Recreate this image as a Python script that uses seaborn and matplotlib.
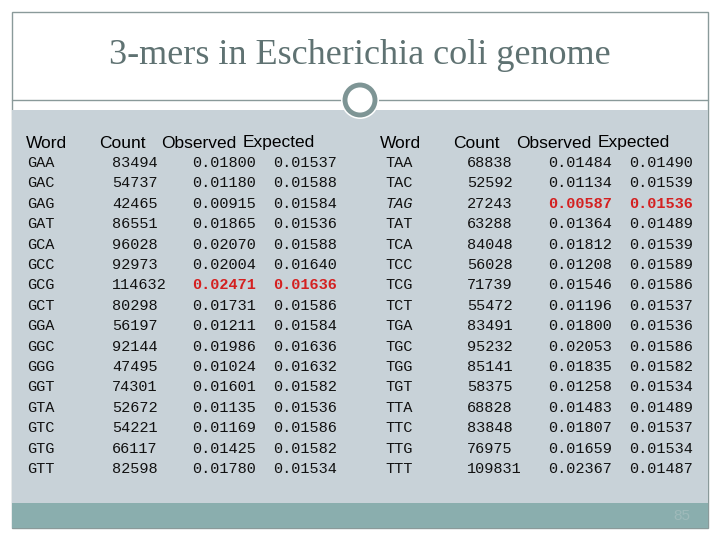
import matplotlib
matplotlib.use("Agg")
import matplotlib.pyplot as plt
import seaborn as sns
from matplotlib.patches import Rectangle, Circle

sns.set_theme(style="white")

title = "3-mers in Escherichia coli genome"
headers = ["Word", "Count", "Observed", "Expected"]
words_left = ["GAA","GAC","GAG","GAT","GCA","GCC","GCG","GCT","GGA","GGC","GGG","GGT","GTA","GTC","GTG","GTT"]
counts_left = [83494,54737,42465,86551,96028,92973,114632,80298,56197,92144,47495,74301,52672,54221,66117,82598]
obs_left = ["0.01800","0.01180","0.00915","0.01865","0.02070","0.02004","0.02471","0.01731","0.01211","0.01986","0.01024","0.01601","0.01135","0.01169","0.01425","0.01780"]
exp_left = ["0.01537","0.01588","0.01584","0.01536","0.01588","0.01640","0.01636","0.01586","0.01584","0.01636","0.01632","0.01582","0.01536","0.01586","0.01582","0.01534"]
words_right = ["TAA","TAC","TAG","TAT","TCA","TCC","TCG","TCT","TGA","TGC","TGG","TGT","TTA","TTC","TTG","TTT"]
counts_right = [68838,52592,27243,63288,84048,56028,71739,55472,83491,95232,85141,58375,68828,83848,76975,109831]
obs_right = ["0.01484","0.01134","0.00587","0.01364","0.01812","0.01208","0.01546","0.01196","0.01800","0.02053","0.01835","0.01258","0.01483","0.01807","0.01659","0.02367"]
exp_right = ["0.01490","0.01539","0.01536","0.01489","0.01539","0.01589","0.01586","0.01537","0.01536","0.01586","0.01582","0.01534","0.01489","0.01537","0.01534","0.01487"]
highlight_left = "GCG"
highlight_right = "TAG"
page = "85"

fig = plt.figure(figsize=(7.2, 5.4), dpi=100)
ax = fig.add_axes([0, 0, 1, 1])
ax.set_xlim(0, 720); ax.set_ylim(540, 0); ax.axis("off")
fig.patch.set_facecolor("white")

edge = "#8a9a9a"
ax.add_patch(Rectangle((12, 12), 696, 516, facecolor="white", edgecolor=edge, lw=1))
ax.add_patch(Rectangle((12, 110), 696, 393, facecolor="#c8d2d8", edgecolor="none"))
ax.add_patch(Rectangle((12, 503), 696, 25, facecolor="#8aaeae", edgecolor="none"))
ax.plot([12, 708], [100, 100], color=edge, lw=1)
ax.add_patch(Circle((360, 100), 19, facecolor="white", edgecolor="none", zorder=3))
ax.add_patch(Circle((360, 100), 15, facecolor="white", edgecolor="#7e9595", lw=3.5, zorder=4))
ax.text(360, 56, title, ha="center", va="center", fontsize=26, color="#5f7272",
        family="Liberation Serif")
ax.text(690, 516, page, ha="right", va="center", fontsize=11, color="#9fbaba",
        family="Liberation Sans")

red = "#d42020"
def table(words, counts, obs, exp, hl, xs, hx):
    for h, x in zip(headers, hx):
        ax.text(x, 143, h, ha="left", va="center", fontsize=12.5, color="black",
                family="Liberation Sans")
    for i, (w, c, o, e) in enumerate(zip(words, counts, obs, exp)):
        y = 163 + i * 20.4
        is_hl = (w == hl)
        ax.text(xs[0], y, w, ha="left", va="center", fontsize=11, family="Liberation Mono",
                style="italic" if (is_hl and w == "TAG") else "normal", color="#111111")
        ax.text(xs[1], y, str(c), ha="left", va="center", fontsize=11, family="Liberation Mono", color="#111111")
        for v, x in ((o, xs[2]), (e, xs[3])):
            ax.text(x, y, v, ha="left", va="center", fontsize=11, family="Liberation Mono",
                    color=red if is_hl else "#111111", weight="bold" if is_hl else "normal")

table(words_left, counts_left, obs_left, exp_left, highlight_left,
      [27, 112, 192, 273], [26, 99, 161, 243])
table(words_right, counts_right, obs_right, exp_right, highlight_right,
      [385, 467, 548, 629], [380, 453, 516, 598])

fig.savefig("out.png", dpi=100)
